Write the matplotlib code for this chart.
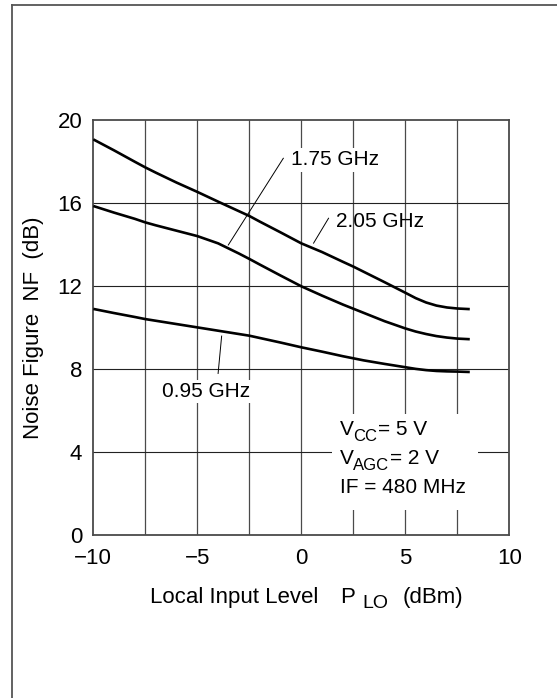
import matplotlib
matplotlib.use("Agg")
import matplotlib.pyplot as plt
from matplotlib.lines import Line2D
from matplotlib.patches import Rectangle

plt.rcParams["font.family"] = ["Liberation Sans", "DejaVu Sans"]

# Local oscillator input level (dBm)
p_lo = [-10, -9, -8, -7.5, -7, -6, -5, -4, -3, -2.5, -2, -1, 0,
        1, 2, 2.5, 3, 4, 5, 5.5, 6, 6.5, 7, 7.5, 8.1]

# Noise figure (dB) per RF frequency
nf_205 = [19.08, 18.55, 18.00, 17.73, 17.48, 17.00, 16.55, 16.08, 15.62, 15.39,
          15.12, 14.60, 14.07, 13.65, 13.18, 12.95, 12.70, 12.20, 11.69, 11.43,
          11.22, 11.07, 10.98, 10.93, 10.90]
nf_175 = [15.87, 15.55, 15.25, 15.08, 14.94, 14.68, 14.42, 14.07, 13.58, 13.32,
          13.05, 12.52, 12.00, 11.55, 11.12, 10.92, 10.72, 10.32, 9.97, 9.82,
          9.70, 9.60, 9.53, 9.48, 9.45]
nf_095 = [10.91, 10.71, 10.52, 10.42, 10.34, 10.18, 10.02, 9.86, 9.70, 9.62,
          9.51, 9.29, 9.06, 8.85, 8.63, 8.53, 8.43, 8.26, 8.10, 8.02,
          7.96, 7.92, 7.90, 7.89, 7.87]

x_ticks = [-10, -5, 0, 5, 10]
y_ticks = [0, 4, 8, 12, 16, 20]
x_grid = [-7.5, -5, -2.5, 0, 2.5, 5, 7.5]
y_grid = [4, 8, 12, 16]

# curve labels: text, text position, leader line (start, end), white backing
labels = [
    ("1.75 GHz", (-0.48, 18.09), [(-0.865, 18.17), (-3.51, 13.99)], True),
    ("2.05 GHz", (1.67, 15.11), [(1.31, 15.28), (0.59, 14.08)], False),
    ("0.95 GHz", (-6.70, 6.92), [(-3.83, 9.60), (-4.0, 7.8)], True),
]

W, H = 557, 698
fig = plt.figure(figsize=(W / 100, H / 100), dpi=100)
ax = fig.add_axes([93.3 / W, 1 - 535.3 / H, 416 / W, 415 / H])

gcol = "#4a4a4a"
for gx in x_grid:
    ax.axvline(gx, color=gcol, lw=0.9, zorder=0.5)
for gy in y_grid:
    ax.axhline(gy, color="#222222", lw=0.8, zorder=0.5)

# blank area behind the operating-condition note
ax.add_patch(Rectangle((1.5, 1.22), 6.98, 4.61, facecolor="white",
                       edgecolor="none", zorder=1))

for series in (nf_205, nf_175, nf_095):
    ax.plot(p_lo, series, color="black", lw=1.9, zorder=3,
            solid_capstyle="butt", solid_joinstyle="round")

for text, (tx, ty), leader, boxed in labels:
    (x0, y0), (x1, y1) = leader
    ax.plot([x0, x1], [y0, y1], color="black", lw=0.7, zorder=3)
    kw = {}
    if boxed:
        kw["bbox"] = dict(facecolor="white", edgecolor="none", pad=1.5)
    ax.text(tx, ty, text, fontsize=15, ha="left", va="center", zorder=4, **kw)

ax.set_xlim(-10, 10)
ax.set_ylim(0, 20)
ax.set_xticks(x_ticks)
ax.set_yticks(y_ticks)
ax.tick_params(axis="both", length=0, labelsize=16)
ax.tick_params(axis="x", pad=9)
ax.tick_params(axis="y", pad=8)
for sp in ax.spines.values():
    sp.set_color("#4a4a4a")
    sp.set_linewidth(1.3)


def chain(first, pieces):
    """Place text pieces one after another, each (text, size, dx_pt, dy_pt)."""
    prev = first
    for txt, size, dx, dy in pieces:
        prev = ax.annotate(txt, xy=(1, 0), xycoords=prev, xytext=(dx, dy),
                           textcoords="offset points", fontsize=size,
                           ha="left", va="bottom", annotation_clip=False,
                           zorder=4)
    return prev


# operating conditions
cond_x = 1.84
line1 = ax.text(cond_x, 4.63, "V", fontsize=15, va="bottom", ha="left", zorder=4)
chain(line1, [("CC", 12, 0, -3.5), ("= 5 V", 15, 0.5, 3.5)])
line2 = ax.text(cond_x, 3.23, "V", fontsize=15, va="bottom", ha="left", zorder=4)
chain(line2, [("AGC", 12, 0, -3.5), ("= 2 V", 15, 0.5, 3.5)])
ax.text(cond_x, 1.86, "IF = 480 MHz", fontsize=15, va="bottom", ha="left", zorder=4)

# axis titles
fig.text(33.3 / W, 1 - 327.8 / H, "Noise Figure  NF  (dB)", rotation=90,
         fontsize=16, ha="center", va="center")
xl = ax.text(150 / W, 1 - 608.0 / H, "Local Input Level", fontsize=16,
             ha="left", va="bottom", transform=fig.transFigure)
chain(xl, [("P", 16, 16, 0), ("LO", 14, 5, -3.2), ("(dBm)", 16, 10.5, 3.2)])

# frame edges
fig.add_artist(Line2D([12 / W, 12 / W], [0, 1 - 5 / H],
                      transform=fig.transFigure, color="#555555", lw=1.3))
fig.add_artist(Line2D([12 / W, 1], [1 - 5 / H, 1 - 5 / H],
                      transform=fig.transFigure, color="#555555", lw=1.3))

fig.savefig("out.png", dpi=100, facecolor="white")
